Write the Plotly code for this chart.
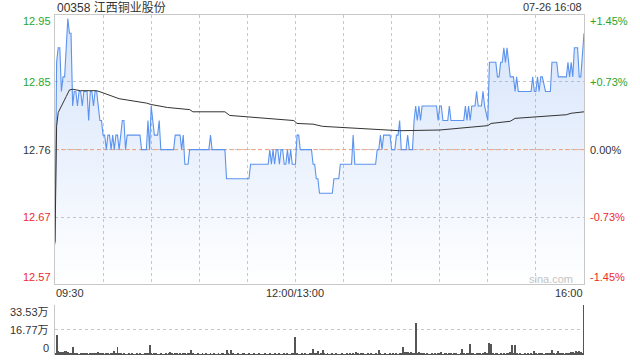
import plotly.graph_objects as go

# ---------------- data ----------------
stock_title = "00358 江西铜业股份"
stamp_text = "07-26 16:08"
prev_close = 12.76
pct_ticks = [1.45, 0.73, 0.0, -0.73, -1.45]
price_tick_labels = ["12.95", "12.85", "12.76", "12.67", "12.57"]
pct_tick_labels = ["+1.45%", "+0.73%", "0.00%", "-0.73%", "-1.45%"]
tick_colors = ["#2aa52a", "#2aa52a", "#333333", "#ee2a2a", "#ee2a2a"]

total_minutes = 330
time_label_minutes = [0, 150, 330]
time_labels = ["09:30", "12:00/13:00", "16:00"]
grid_minutes = [30, 60, 90, 120, 150, 180, 210, 240, 270, 300]

price_minutes = [0, 1, 2, 3, 4, 5, 6, 7, 8, 9, 10, 11, 12, 13, 14, 15, 16, 17, 18, 19,
                 20, 21, 22, 23, 24, 25, 26, 27, 28, 29, 30, 31, 32, 33, 34, 35, 36, 37, 38, 39,
                 40, 41, 42, 43, 44, 45, 53, 54, 57, 58, 59, 60, 61, 62, 64, 65, 66, 74, 75, 78,
                 79, 80, 81, 83, 84, 96, 97, 98, 106, 107, 121, 122, 133, 134, 135, 136, 137, 138, 139, 140,
                 141, 142, 143, 144, 145, 146, 147, 148, 150, 151, 152, 153, 160, 161, 162, 163, 164, 165, 173, 174,
                 177, 178, 185, 186, 187, 200, 201, 202, 203, 204, 205, 209, 210, 212, 213, 214, 215, 216, 219, 220,
                 221, 223, 224, 225, 226, 227, 228, 229, 238, 239, 240, 241, 242, 245, 246, 247, 255, 256, 257, 258,
                 259, 260, 262, 263, 264, 266, 267, 268, 270, 271, 275, 276, 277, 278, 279, 280, 281, 282, 283, 284,
                 286, 287, 288, 289, 297, 298, 299, 300, 301, 302, 303, 304, 306, 309, 310, 313, 314, 319, 320, 321,
                 322, 323, 324, 326, 327, 328, 330]
price_values = [12.63, 12.88, 12.90, 12.90, 12.84, 12.86, 12.86, 12.90, 12.94, 12.92, 12.92, 12.82, 12.84, 12.84, 12.82, 12.84, 12.84, 12.82, 12.84, 12.84,
                12.84, 12.80, 12.84, 12.84, 12.82, 12.84, 12.84, 12.82, 12.80, 12.80, 12.78, 12.78, 12.76, 12.78, 12.78, 12.76, 12.78, 12.76, 12.78, 12.78,
                12.76, 12.78, 12.80, 12.80, 12.76, 12.78, 12.78, 12.76, 12.76, 12.80, 12.76, 12.82, 12.80, 12.78, 12.78, 12.80, 12.76, 12.76, 12.78, 12.78,
                12.76, 12.78, 12.74, 12.74, 12.76, 12.76, 12.78, 12.76, 12.76, 12.72, 12.72, 12.74, 12.74, 12.76, 12.74, 12.76, 12.74, 12.76, 12.76, 12.74,
                12.76, 12.76, 12.74, 12.74, 12.76, 12.74, 12.76, 12.74, 12.74, 12.78, 12.78, 12.76, 12.76, 12.74, 12.74, 12.72, 12.72, 12.70, 12.70, 12.72,
                12.72, 12.74, 12.74, 12.78, 12.74, 12.74, 12.76, 12.76, 12.78, 12.76, 12.78, 12.78, 12.76, 12.76, 12.78, 12.78, 12.80, 12.76, 12.76, 12.78,
                12.76, 12.76, 12.80, 12.82, 12.80, 12.82, 12.80, 12.82, 12.82, 12.80, 12.82, 12.82, 12.80, 12.80, 12.82, 12.80, 12.80, 12.82, 12.80, 12.82,
                12.80, 12.82, 12.82, 12.84, 12.82, 12.82, 12.84, 12.82, 12.80, 12.88, 12.88, 12.86, 12.86, 12.88, 12.88, 12.90, 12.88, 12.90, 12.88, 12.86,
                12.86, 12.84, 12.86, 12.84, 12.84, 12.86, 12.84, 12.84, 12.86, 12.84, 12.86, 12.86, 12.84, 12.84, 12.88, 12.88, 12.86, 12.86, 12.88, 12.86,
                12.88, 12.86, 12.90, 12.90, 12.86, 12.86, 12.92]

avg_minutes = [0, 1, 2, 4, 6, 7, 9, 11, 16, 26, 30, 38, 40, 57, 60, 70, 84, 86, 106, 109,
               132, 149, 151, 161, 167, 184, 201, 215, 240, 253, 270, 272, 284, 287, 303, 319, 322, 330]
avg_values = [12.633, 12.792, 12.811, 12.819, 12.829, 12.833, 12.842, 12.843, 12.841, 12.841,
              12.838, 12.831, 12.830, 12.824, 12.822, 12.818, 12.815, 12.812, 12.812, 12.807,
              12.803, 12.800, 12.796, 12.795, 12.792, 12.790, 12.787, 12.786, 12.787, 12.790,
              12.793, 12.796, 12.799, 12.803, 12.805, 12.808, 12.810, 12.812]

# volume per minute, unit 万 shares
volume = [
    0.8, 13.2, 2.5, 2.3, 1.8, 1.8, 2.5, 3.0, 1.8, 1.0, 0.8, 5.2, 0.9, 0.7, 0.8, 0.6, 0.9, 1.1, 0.7, 0.8, 1.0, 0.6, 1.1, 0.8, 0.7, 0.9, 1.5, 1.8, 1.5, 0.8,
    0.7, 0.6, 1.0, 0.8, 0.6, 0.9, 1.4, 2.5, 1.1, 5.2, 0.9, 0.7, 0.6, 0.8, 0.5, 0.6, 0.7, 0.5, 0.9, 0.6, 0.5, 0.7, 0.6, 0.8, 0.5, 0.6, 0.9, 0.7, 1.0, 6.4,
    0.8, 0.6, 1.2, 0.7, 0.5, 0.6, 0.9, 0.5, 0.6, 0.8, 0.6, 1.0, 2.2, 0.9, 0.6, 0.7, 1.0, 0.5, 0.9, 0.6, 0.7, 1.1, 0.6, 0.8, 1.0, 3.6, 0.7, 0.5, 0.6, 0.8,
    0.6, 0.5, 0.7, 0.6, 0.8, 0.5, 0.6, 0.9, 0.5, 0.7, 0.6, 0.5, 0.8, 0.6, 1.0, 0.7, 0.6, 3.6, 0.8, 0.6, 3.6, 0.9, 0.6, 0.5, 0.7, 0.6, 0.5, 0.8, 1.2, 0.6,
    0.5, 0.7, 0.6, 0.5, 0.8, 0.6, 0.5, 0.7, 0.5, 0.6, 0.5, 0.7, 0.6, 0.5, 0.8, 0.6, 0.5, 0.9, 0.6, 0.5, 0.7, 0.6, 0.5, 0.7, 0.6, 0.8, 0.5, 0.6, 0.7, 0.9,
    12.0, 0.9, 0.6, 0.5, 0.7, 0.6, 0.8, 0.5, 0.6, 0.9, 0.7, 4.1, 1.0, 0.8, 2.5, 0.6, 0.7, 3.6, 1.0, 0.6, 0.7, 0.5, 0.6, 0.8, 0.5, 0.7, 0.6, 0.5, 0.6, 0.9,
    0.5, 0.6, 0.7, 0.5, 0.8, 0.6, 0.7, 0.5, 2.3, 0.8, 0.6, 0.7, 0.9, 0.5, 0.6, 0.8, 0.5, 0.7, 0.6, 0.5, 0.8, 0.6, 3.6, 0.7, 0.5, 0.6, 0.8, 0.6, 0.5, 0.7,
    0.6, 0.8, 0.5, 0.7, 0.6, 0.9, 0.8, 5.2, 1.8, 1.8, 2.0, 1.5, 1.8, 1.0, 0.8, 21.6, 1.2, 2.3, 1.0, 0.8, 0.7, 0.6, 0.8, 0.6, 0.5, 0.7, 0.6, 0.8, 0.6, 1.0,
    0.7, 2.3, 0.6, 0.9, 0.7, 0.5, 1.2, 0.8, 0.6, 1.0, 0.7, 0.5, 0.6, 0.9, 4.3, 0.8, 0.6, 0.7, 0.9, 7.3, 1.0, 0.8, 0.6, 1.2, 0.7, 0.9, 0.6, 1.0, 1.8, 0.9,
    0.9, 8.0, 7.5, 0.8, 0.6, 0.7, 0.9, 0.6, 0.8, 0.5, 0.7, 0.6, 0.9, 1.0, 1.8, 6.4, 0.9, 6.4, 0.8, 0.6, 0.7, 0.5, 0.6, 0.8, 0.6, 0.7, 0.5, 0.8, 0.6, 3.0,
    0.8, 0.6, 0.9, 0.7, 1.0, 0.6, 0.8, 1.1, 0.7, 0.9, 3.6, 0.8, 0.6, 0.9, 3.0, 0.7, 1.0, 0.8, 0.6, 1.2, 0.8, 0.9, 2.3, 1.8, 1.2, 3.0, 2.0, 2.5, 1.8, 1.2,
    33.53,
]
volume_minutes = list(range(len(volume)))
vol_max = 33.53
vol_tick_values = [33.53, 16.77, 0]
vol_tick_labels = ["33.53万", "16.77万", "0"]
watermark = "sina.com"

# ---------------- figure ----------------
W, H = 640, 360
ML, MR, MT, MB = 55, 56, 15, 5
PW, PH = W - ML - MR, H - MT - MB
MAIN_BOTTOM_PX = 284.3
VOL_TOP_PX = 305


def fx(px):
    return (px - ML) / PW


def fy(py):
    return (H - MB - py) / PH


price_levels = [prev_close * (1 + p / 100) for p in pct_ticks]
y_top, y_bot = price_levels[0], price_levels[-1]

FONT = "Liberation Sans, Arial, Noto Sans CJK SC, sans-serif"
BLUE = "#5b93ee"

fig = go.Figure()
# invisible baseline for the fill
fig.add_trace(go.Scatter(x=[0, total_minutes], y=[y_bot, y_bot], mode="lines",
                         line=dict(width=0, color="rgba(0,0,0,0)"), hoverinfo="skip",
                         showlegend=False, xaxis="x", yaxis="y"))
# area fill under the price
fig.add_trace(go.Scatter(x=price_minutes, y=price_values, mode="lines",
                         line=dict(width=0, color="rgba(0,0,0,0)"), fill="tonexty",
                         fillgradient=dict(type="vertical",
                                           colorscale=[[0, "rgba(91,147,238,0.0)"],
                                                       [1, "rgba(91,147,238,0.26)"]],
                                           start=y_bot, stop=y_top),
                         hoverinfo="skip", showlegend=False, xaxis="x", yaxis="y"))
# previous close reference line
fig.add_trace(go.Scatter(x=[0, total_minutes], y=[prev_close, prev_close], mode="lines",
                         line=dict(width=1, color="#f2a07e", dash="4px,3px"),
                         hoverinfo="skip", showlegend=False, xaxis="x", yaxis="y"))
# price line
fig.add_trace(go.Scatter(x=price_minutes, y=price_values, mode="lines",
                         line=dict(width=1.1, color=BLUE), showlegend=False,
                         xaxis="x", yaxis="y"))
# average price line
fig.add_trace(go.Scatter(x=avg_minutes, y=avg_values, mode="lines",
                         line=dict(width=1, color="#333333"), showlegend=False,
                         xaxis="x", yaxis="y"))
# volume bars
fig.add_trace(go.Bar(x=volume_minutes, y=volume, width=0.6,
                     marker=dict(color="#555555", line=dict(width=0)),
                     showlegend=False, xaxis="x2", yaxis="y2"))

main_dom_bottom = fy(MAIN_BOTTOM_PX)
vol_dom_top = fy(VOL_TOP_PX)

fig.update_layout(
    width=W, height=H,
    margin=dict(l=ML, r=MR, t=MT, b=MB, pad=0),
    paper_bgcolor="white", plot_bgcolor="rgba(0,0,0,0)",
    font=dict(family=FONT, size=11, color="#333333"),
    showlegend=False,
    xaxis=dict(domain=[0, 1], range=[0, total_minutes], anchor="y",
               tickmode="array", tickvals=grid_minutes, showticklabels=False, ticks="",
               showgrid=True, gridcolor="#c8c8c8", griddash="dot", gridwidth=1,
               showline=True, linecolor="#c8c8c8", linewidth=1, mirror=True,
               zeroline=False, fixedrange=True),
    yaxis=dict(domain=[main_dom_bottom, 1], range=[y_bot, y_top], anchor="x",
               tickmode="array", tickvals=[price_levels[1], price_levels[2], price_levels[3]],
               showticklabels=False, ticks="",
               showgrid=True, gridcolor="#c8c8c8", griddash="dot", gridwidth=1,
               showline=True, linecolor="#c8c8c8", linewidth=1, mirror=True,
               zeroline=False, fixedrange=True),
    xaxis2=dict(domain=[0, 1], range=[0, total_minutes], anchor="y2",
                showticklabels=False, ticks="", showgrid=False, showline=False,
                zeroline=False, fixedrange=True),
    yaxis2=dict(domain=[0, vol_dom_top], range=[0, vol_max], anchor="x2",
                tickmode="array", tickvals=vol_tick_values[:2], showticklabels=False, ticks="",
                showgrid=True, gridcolor="#c8c8c8", griddash="dot", gridwidth=1,
                showline=True, linecolor="#c8c8c8", linewidth=1, mirror=False,
                zeroline=False, fixedrange=True),
    bargap=0,
)

ann = []
# title and timestamp
ann.append(dict(text=stock_title, x=fx(ML), y=fy(7), xref="paper", yref="paper",
                xanchor="left", yanchor="middle", showarrow=False,
                font=dict(size=12, color="#333333")))
ann.append(dict(text=stamp_text, x=1, y=fy(7), xref="paper", yref="paper",
                xanchor="right", yanchor="middle", showarrow=False,
                font=dict(size=11, color="#333333")))
# price / pct tick labels
n = len(price_levels)
for i, (lvl, lab, pl, col) in enumerate(zip(price_levels, price_tick_labels, pct_tick_labels, tick_colors)):
    if i == 0:
        ya, ys = "top", 1
    elif i == n - 1:
        ya, ys = "bottom", 0
    else:
        ya, ys = "middle", 0
    ann.append(dict(text=lab, x=fx(52), y=lvl, xref="paper", yref="y",
                    xanchor="right", yanchor=ya, yshift=ys, showarrow=False,
                    borderpad=0, font=dict(size=11, color=col)))
    ann.append(dict(text=pl, x=fx(589), y=lvl, xref="paper", yref="y",
                    xanchor="left", yanchor=ya, yshift=ys, showarrow=False,
                    borderpad=0, font=dict(size=11, color=col)))
# time labels
anchors = ["left", "center", "right"]
for m, lab, a in zip(time_label_minutes, time_labels, anchors):
    ann.append(dict(text=lab, x=m, y=fy(293), xref="x", yref="paper",
                    xanchor=a, yanchor="middle", showarrow=False, borderpad=0,
                    font=dict(size=11, color="#333333")))
# volume tick labels
for v, lab, ya in zip(vol_tick_values, vol_tick_labels, ["top", "middle", "bottom"]):
    ann.append(dict(text=lab, x=fx(50), y=v, xref="paper", yref="y2",
                    xanchor="right", yanchor=ya, showarrow=False, borderpad=0,
                    font=dict(size=11, color="#333333")))
# watermark
ann.append(dict(text=watermark, x=fx(574), y=fy(279), xref="paper", yref="paper",
                xanchor="right", yanchor="middle", showarrow=False, borderpad=0,
                font=dict(size=11, color="#c4c4c4")))

fig.update_layout(annotations=ann)
fig.write_html("out.html", config={"displayModeBar": False})
